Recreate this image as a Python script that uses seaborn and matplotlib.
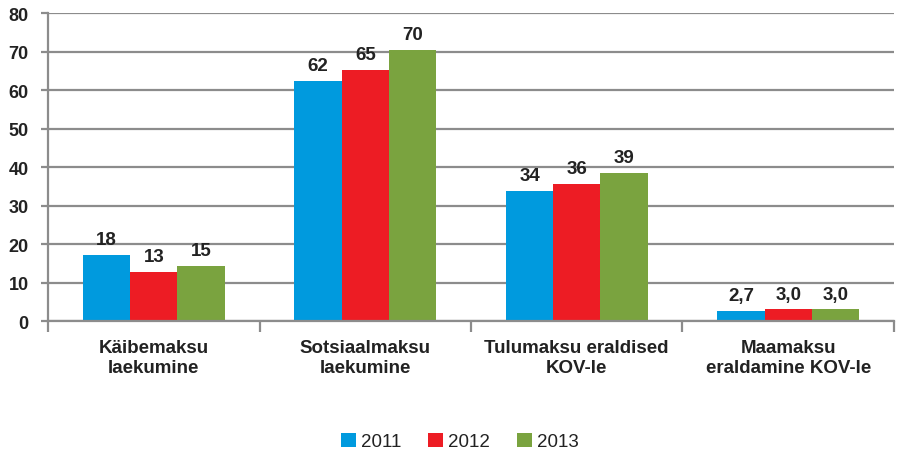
import matplotlib
matplotlib.use("Agg")
import matplotlib.pyplot as plt
import seaborn as sns
import pandas as pd
import numpy as np

categories = ["Käibemaksu\nlaekumine", "Sotsiaalmaksu\nlaekumine",
              "Tulumaksu eraldised\nKOV-le", "Maamaksu\neraldamine KOV-le"]
years = ["2011", "2012", "2013"]
v2011 = [17.2, 62.4, 33.8, 2.7]
v2012 = [12.8, 65.2, 35.6, 3.0]
v2013 = [14.4, 70.4, 38.5, 3.0]
labels2011 = ["18", "62", "34", "2,7"]
labels2012 = ["13", "65", "36", "3,0"]
labels2013 = ["15", "70", "39", "3,0"]
colors = ["#009ADE", "#ED1C24", "#7AA33F"]
yticks = [0, 10, 20, 30, 40, 50, 60, 70, 80]

sns.set_theme(style="white")
plt.rcParams['font.family'] = ['Liberation Sans', 'DejaVu Sans']

rows = []
for yr, vals in zip(years, [v2011, v2012, v2013]):
    for c, v in zip(categories, vals):
        rows.append({"category": c, "year": yr, "value": v})
df = pd.DataFrame(rows)

fig = plt.figure(figsize=(8.98, 4.52), dpi=100)
ax = fig.add_axes([0.0535, 0.2876, 0.9420, 0.6814])
sns.barplot(data=df, x="category", y="value", hue="year", palette=colors,
            saturation=1, width=0.67, gap=0, ax=ax, order=categories,
            hue_order=years, linewidth=0, legend=True)

grid_c = "#8C8C8C"
ax.set_ylim(0, 80)
ax.set_xlim(-0.5, 3.5)
ax.set_yticks(yticks)
ax.yaxis.grid(True, color=grid_c, linewidth=1.6)
ax.set_axisbelow(True)
for s in ["top", "right"]:
    ax.spines[s].set_visible(False)
for s in ["left", "bottom"]:
    ax.spines[s].set_color(grid_c)
    ax.spines[s].set_linewidth(1.6)
ax.set_xlabel("")
ax.set_ylabel("")

ax.tick_params(axis="y", which="major", left=True, length=5, width=1.6,
               color=grid_c, pad=9, labelsize=13, labelcolor="#222222")
for t in ax.get_yticklabels():
    t.set_fontweight("bold")
ax.set_xticks(np.arange(-0.5, 4.0, 1.0), minor=True)
ax.tick_params(axis="x", which="minor", bottom=True, length=8, width=1.6, color=grid_c)
ax.tick_params(axis="x", which="major", bottom=False, length=0, pad=13,
               labelsize=13.5, labelcolor="#222222")
for t in ax.get_xticklabels():
    t.set_fontweight("bold")
    t.set_linespacing(1.25)

for cont, labs in zip(ax.containers, [labels2011, labels2012, labels2013]):
    ax.bar_label(cont, labels=labs, padding=5, fontsize=13.5, fontweight="bold",
                 color="#222222")

handles, lbls = ax.get_legend_handles_labels()
ax.get_legend().remove()
fig.legend(handles, lbls, loc="center", bbox_to_anchor=(0.512, 0.021), ncol=3,
           frameon=False, fontsize=13.5, handlelength=0.8, handleheight=0.8,
           handletextpad=0.3, columnspacing=1.4, labelcolor="#222222")

fig.savefig("out.png", dpi=100)
